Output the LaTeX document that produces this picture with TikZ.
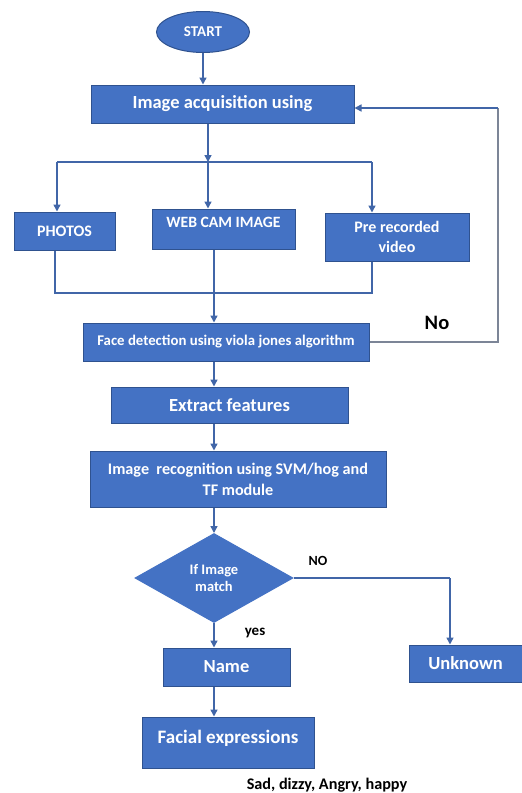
\documentclass[tikz,border=0pt]{standalone}
\usepackage{fontspec}
\setmainfont{Carlito}
\usepackage{tikz}
\usetikzlibrary{shapes.geometric,arrows.meta}
\definecolor{boxfill}{HTML}{4472C4}
\definecolor{boxline}{HTML}{2F528F}
\definecolor{wire}{HTML}{4166A8}
\definecolor{greywire}{HTML}{7C8597}
\tikzset{
  blk/.style={rectangle, fill=boxfill, draw=boxline, line width=1pt, text=white, font=\bfseries, align=center, inner sep=0pt},
  oval/.style={ellipse, fill=boxfill, draw=boxline, line width=1pt, text=white, font=\bfseries\fontsize{15}{17}\selectfont, inner sep=0pt},
  choice/.style={diamond, fill=boxfill, draw=boxfill, line width=1pt, text=white, font=\bfseries\fontsize{14.5}{17}\selectfont, align=center, inner sep=0pt},
  wireline/.style={draw=wire, line width=1.5pt},
  flow/.style={wireline, -{Triangle[length=7pt,width=7pt]}},
  greyline/.style={draw=greywire, line width=1.3pt},
  note/.style={text=black, font=\bfseries},
}

\begin{document}
\begin{tikzpicture}[x=1pt, y=-1pt]
  \useasboundingbox[fill=white] (0,0) rectangle (522,793);

  \node[oval, minimum width=93, minimum height=41] (start) at (203,32) {START};
  \node[blk, minimum width=263, minimum height=38, font=\bfseries\fontsize{18.5}{21}\selectfont] (acq) at (222.5,104) {Image acquisition using};
  \node[blk, minimum width=101, minimum height=38, font=\bfseries\fontsize{16}{19}\selectfont] (photos) at (64.5,231) {PHOTOS};
  \node[blk, minimum width=143, minimum height=40, text depth=14pt, font=\bfseries\fontsize{15.7}{19}\selectfont] (webcam) at (223.5,229) {WEB CAM IMAGE};
  \node[blk, minimum width=144, minimum height=48, font=\bfseries\fontsize{16}{20}\selectfont] (prerec) at (397,237) {Pre recorded\\video};
  \node[blk, minimum width=286, minimum height=38, font=\bfseries\fontsize{14.8}{17}\selectfont] (face) at (226,342) {Face detection using viola jones algorithm};
  \node[blk, minimum width=237, minimum height=36, font=\bfseries\fontsize{18.5}{21}\selectfont] (extract) at (229.5,405) {Extract features};
  \node[blk, minimum width=296, minimum height=56, font=\bfseries\fontsize{16.2}{21}\selectfont] (recog) at (238,479) {Image\ \ recognition using SVM/hog and\\TF module};
  \node[choice, minimum width=158, minimum height=89, aspect=1.78] (match) at (214,578) {If Image\\match};
  \node[blk, minimum width=127, minimum height=38, font=\bfseries\fontsize{18.5}{21}\selectfont] (name) at (226.5,667) {Name};
  \node[blk, minimum width=113, minimum height=37, font=\bfseries\fontsize{18.5}{21}\selectfont] (unknown) at (465.5,663.5) {Unknown};
  \node[blk, minimum width=172, minimum height=51, text depth=12pt, font=\bfseries\fontsize{19}{21}\selectfont] (facial) at (228,742.5) {Facial expressions};

  \node[note, font=\bfseries\fontsize{20.5}{23}\selectfont] (nolab) at (437,323) {No};
  \node[note, font=\bfseries\fontsize{14}{16}\selectfont] (NOlab) at (318,561) {NO};
  \node[note, font=\bfseries\fontsize{15}{17}\selectfont] (yeslab) at (255,633) {yes};
  \node[note, font=\bfseries\fontsize{16.2}{19}\selectfont] (moods) at (327,785) {Sad, dizzy, Angry, happy};

  % branching points
  \coordinate (split) at (208,162);
  \coordinate (bl) at (57,162);
  \coordinate (br) at (372,162);
  \coordinate (jl) at (55,293);
  \coordinate (jm) at (214,293);
  \coordinate (jr) at (372,293);
  \coordinate (fbr) at (498,342);
  \coordinate (fbt) at (498,108);
  \coordinate (nocorner) at (450,578);

  \draw[flow] (start.south) -- (start.south |- acq.north);
  \draw[flow] (split |- acq.south) -- (split);
  \draw[wireline] (bl) -- (br);
  \draw[flow] (bl) -- (bl |- photos.north);
  \draw[flow] (split) -- (split |- webcam.north);
  \draw[flow] (br) -- (br |- prerec.north);

  \draw[wireline] (jl |- photos.south) -- (jl) -- (jr) -- (jr |- prerec.south);
  \draw[wireline] (jm |- webcam.south) -- (jm);
  \draw[flow] (jm) -- (jm |- face.north);

  % loop back
  \draw[greyline] (face.east) -- (fbr) -- (fbt);
  \draw[flow] (fbt) -- (acq.east |- fbt);

  \draw[flow] (face.south -| jm) -- (jm |- extract.north);
  \draw[flow] (extract.south -| jm) -- (jm |- recog.north);
  \draw[flow] (recog.south -| match.north) -- (match.north);
  \draw[flow] (match.south) -- (match.south |- name.north);
  \draw[flow] (name.south -| match.south) -- (match.south |- facial.north);
  \draw[wireline] (match.east) -- (nocorner);
  \draw[flow] (nocorner) -- (nocorner |- unknown.north);
\end{tikzpicture}
\end{document}
